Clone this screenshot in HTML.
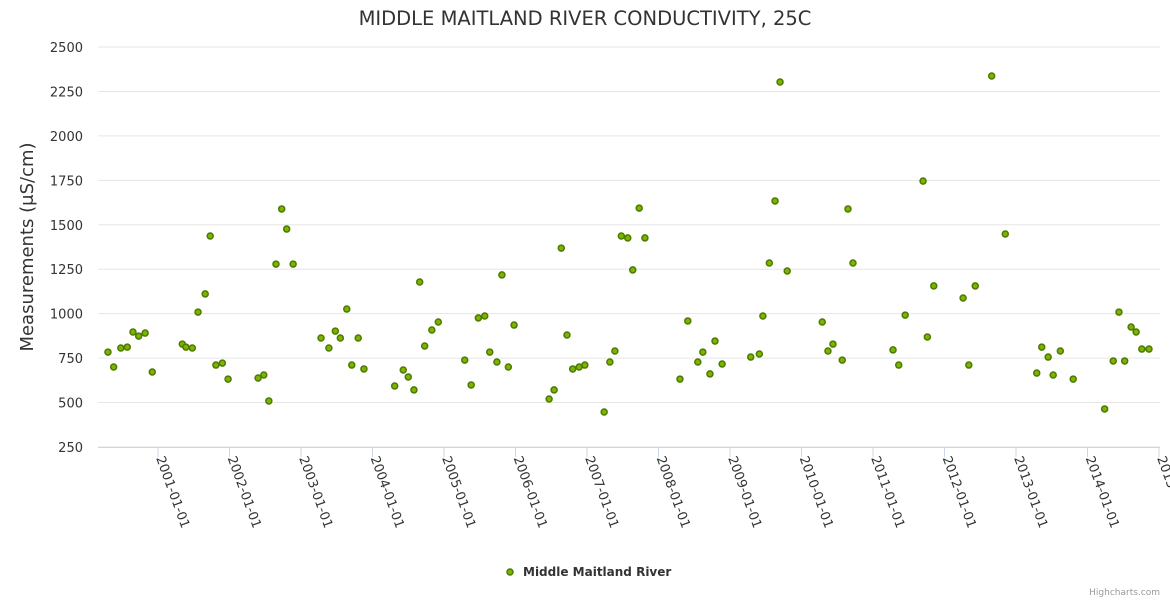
<!DOCTYPE html>
<html><head><meta charset="utf-8"><style>
html,body{margin:0;padding:0;background:#fff;}
svg{display:block;font-family:"DejaVu Sans","Liberation Sans",sans-serif;}
</style></head><body>
<svg id="chart" width="1170" height="600">
<text x="585" y="25" text-anchor="middle" font-size="19.5" fill="#333">MIDDLE MAITLAND RIVER CONDUCTIVITY, 25C</text>
<text transform="translate(33,247) rotate(-90)" text-anchor="middle" font-size="18" fill="#333">Measurements (μS/cm)</text>
<g id="grid"></g><g id="xaxis"></g><g id="pts"></g>
<g>
<circle cx="510" cy="572" r="3" fill="#7cb400" stroke="#4d7a00" stroke-width="1.5"/>
<text x="523" y="576" font-size="12" font-weight="bold" fill="#333">Middle Maitland River</text>
</g>
<text x="1160" y="595" text-anchor="end" font-size="9" fill="#999">Highcharts.com</text>
</svg>
<script>
const yTicks=[250,500,750,1000,1250,1500,1750,2000,2250,2500];
const xTickYears=[2001,2002,2003,2004,2005,2006,2007,2008,2009,2010,2011,2012,2013,2014,2015];
const dates=[2000.30,2000.38,2000.48,2000.57,2000.65,2000.73,2000.82,2000.92,2001.34,2001.39,2001.48,2001.56,2001.66,2001.73,2001.81,2001.90,2001.98,2002.40,2002.48,2002.55,2002.65,2002.73,2002.80,2002.89,2003.28,2003.39,2003.48,2003.55,2003.64,2003.71,2003.80,2003.88,2004.31,2004.43,2004.50,2004.58,2004.66,2004.73,2004.83,2004.92,2005.29,2005.38,2005.48,2005.57,2005.64,2005.74,2005.81,2005.90,2005.98,2006.47,2006.54,2006.64,2006.72,2006.80,2006.89,2006.97,2007.24,2007.32,2007.39,2007.48,2007.57,2007.64,2007.73,2007.81,2008.30,2008.41,2008.55,2008.62,2008.72,2008.79,2008.89,2009.29,2009.41,2009.46,2009.55,2009.63,2009.70,2009.80,2010.29,2010.37,2010.44,2010.57,2010.65,2010.72,2011.28,2011.36,2011.45,2011.70,2011.76,2011.85,2012.26,2012.34,2012.43,2012.66,2012.85,2013.29,2013.36,2013.45,2013.52,2013.62,2013.80,2014.24,2014.36,2014.44,2014.52,2014.61,2014.68,2014.76,2014.86];
const values=[784,700,807,812,897,874,891,672,829,812,807,1009,1111,1437,711,722,632,638,655,509,1279,1589,1476,1279,863,807,902,863,1026,711,863,689,593,683,644,571,1178,818,908,953,739,599,976,987,784,728,1218,700,936,520,571,1369,880,689,700,711,447,728,790,1437,1426,1246,1594,1426,632,959,728,784,661,846,717,756,773,987,1285,1634,2303,1240,953,790,829,739,1589,1285,796,711,992,1746,869,1156,1088,711,1156,2337,1448,666,812,756,655,790,632,464,734,1009,734,925,897,801,801];
const NS="http://www.w3.org/2000/svg";
const L=98,R=1160,T=47,B=447;
const x=yr=>158+(yr-2001)*71.5;
const y=v=>B-(v-250)/2250*(B-T);
function mk(tag,at,parent){const e=document.createElementNS(NS,tag);for(const k in at)e.setAttribute(k,at[k]);parent.appendChild(e);return e;}
const grid=document.getElementById('grid');
yTicks.forEach(v=>{
 const l=mk('line',{x1:L,x2:R,y1:y(v),y2:y(v),stroke:'#e6e6e6','stroke-width':1},grid);
 
 
 const t=mk('text',{x:83,y:y(v)+5,'text-anchor':'end','font-size':13,fill:'#333'},grid);
 t.textContent=v;
 
 
});
const xa=document.getElementById('xaxis');
const ax=mk('line',{x1:L,x2:R,y1:B+0.5,y2:B+0.5,stroke:'#ccd6eb','stroke-width':1},xa);


xTickYears.forEach(yr=>{
 const px=x(yr);
 mk('line',{x1:px,x2:px,y1:B,y2:B+10,stroke:'#ccd6eb'},xa);
 const t=mk('text',{transform:`translate(${px-2},${B+11}) rotate(70)`,'font-size':13,fill:'#333'},xa);
 t.textContent=yr+'-01-01';
 
 
});
const pts=document.getElementById('pts');
dates.forEach((d,i)=>{
 const c=mk('circle',{cx:x(d),cy:y(values[i]),r:3,fill:'#7cb400',stroke:'#4d7a00','stroke-width':1.5},pts);
 
 
});
</script>
</body></html>
